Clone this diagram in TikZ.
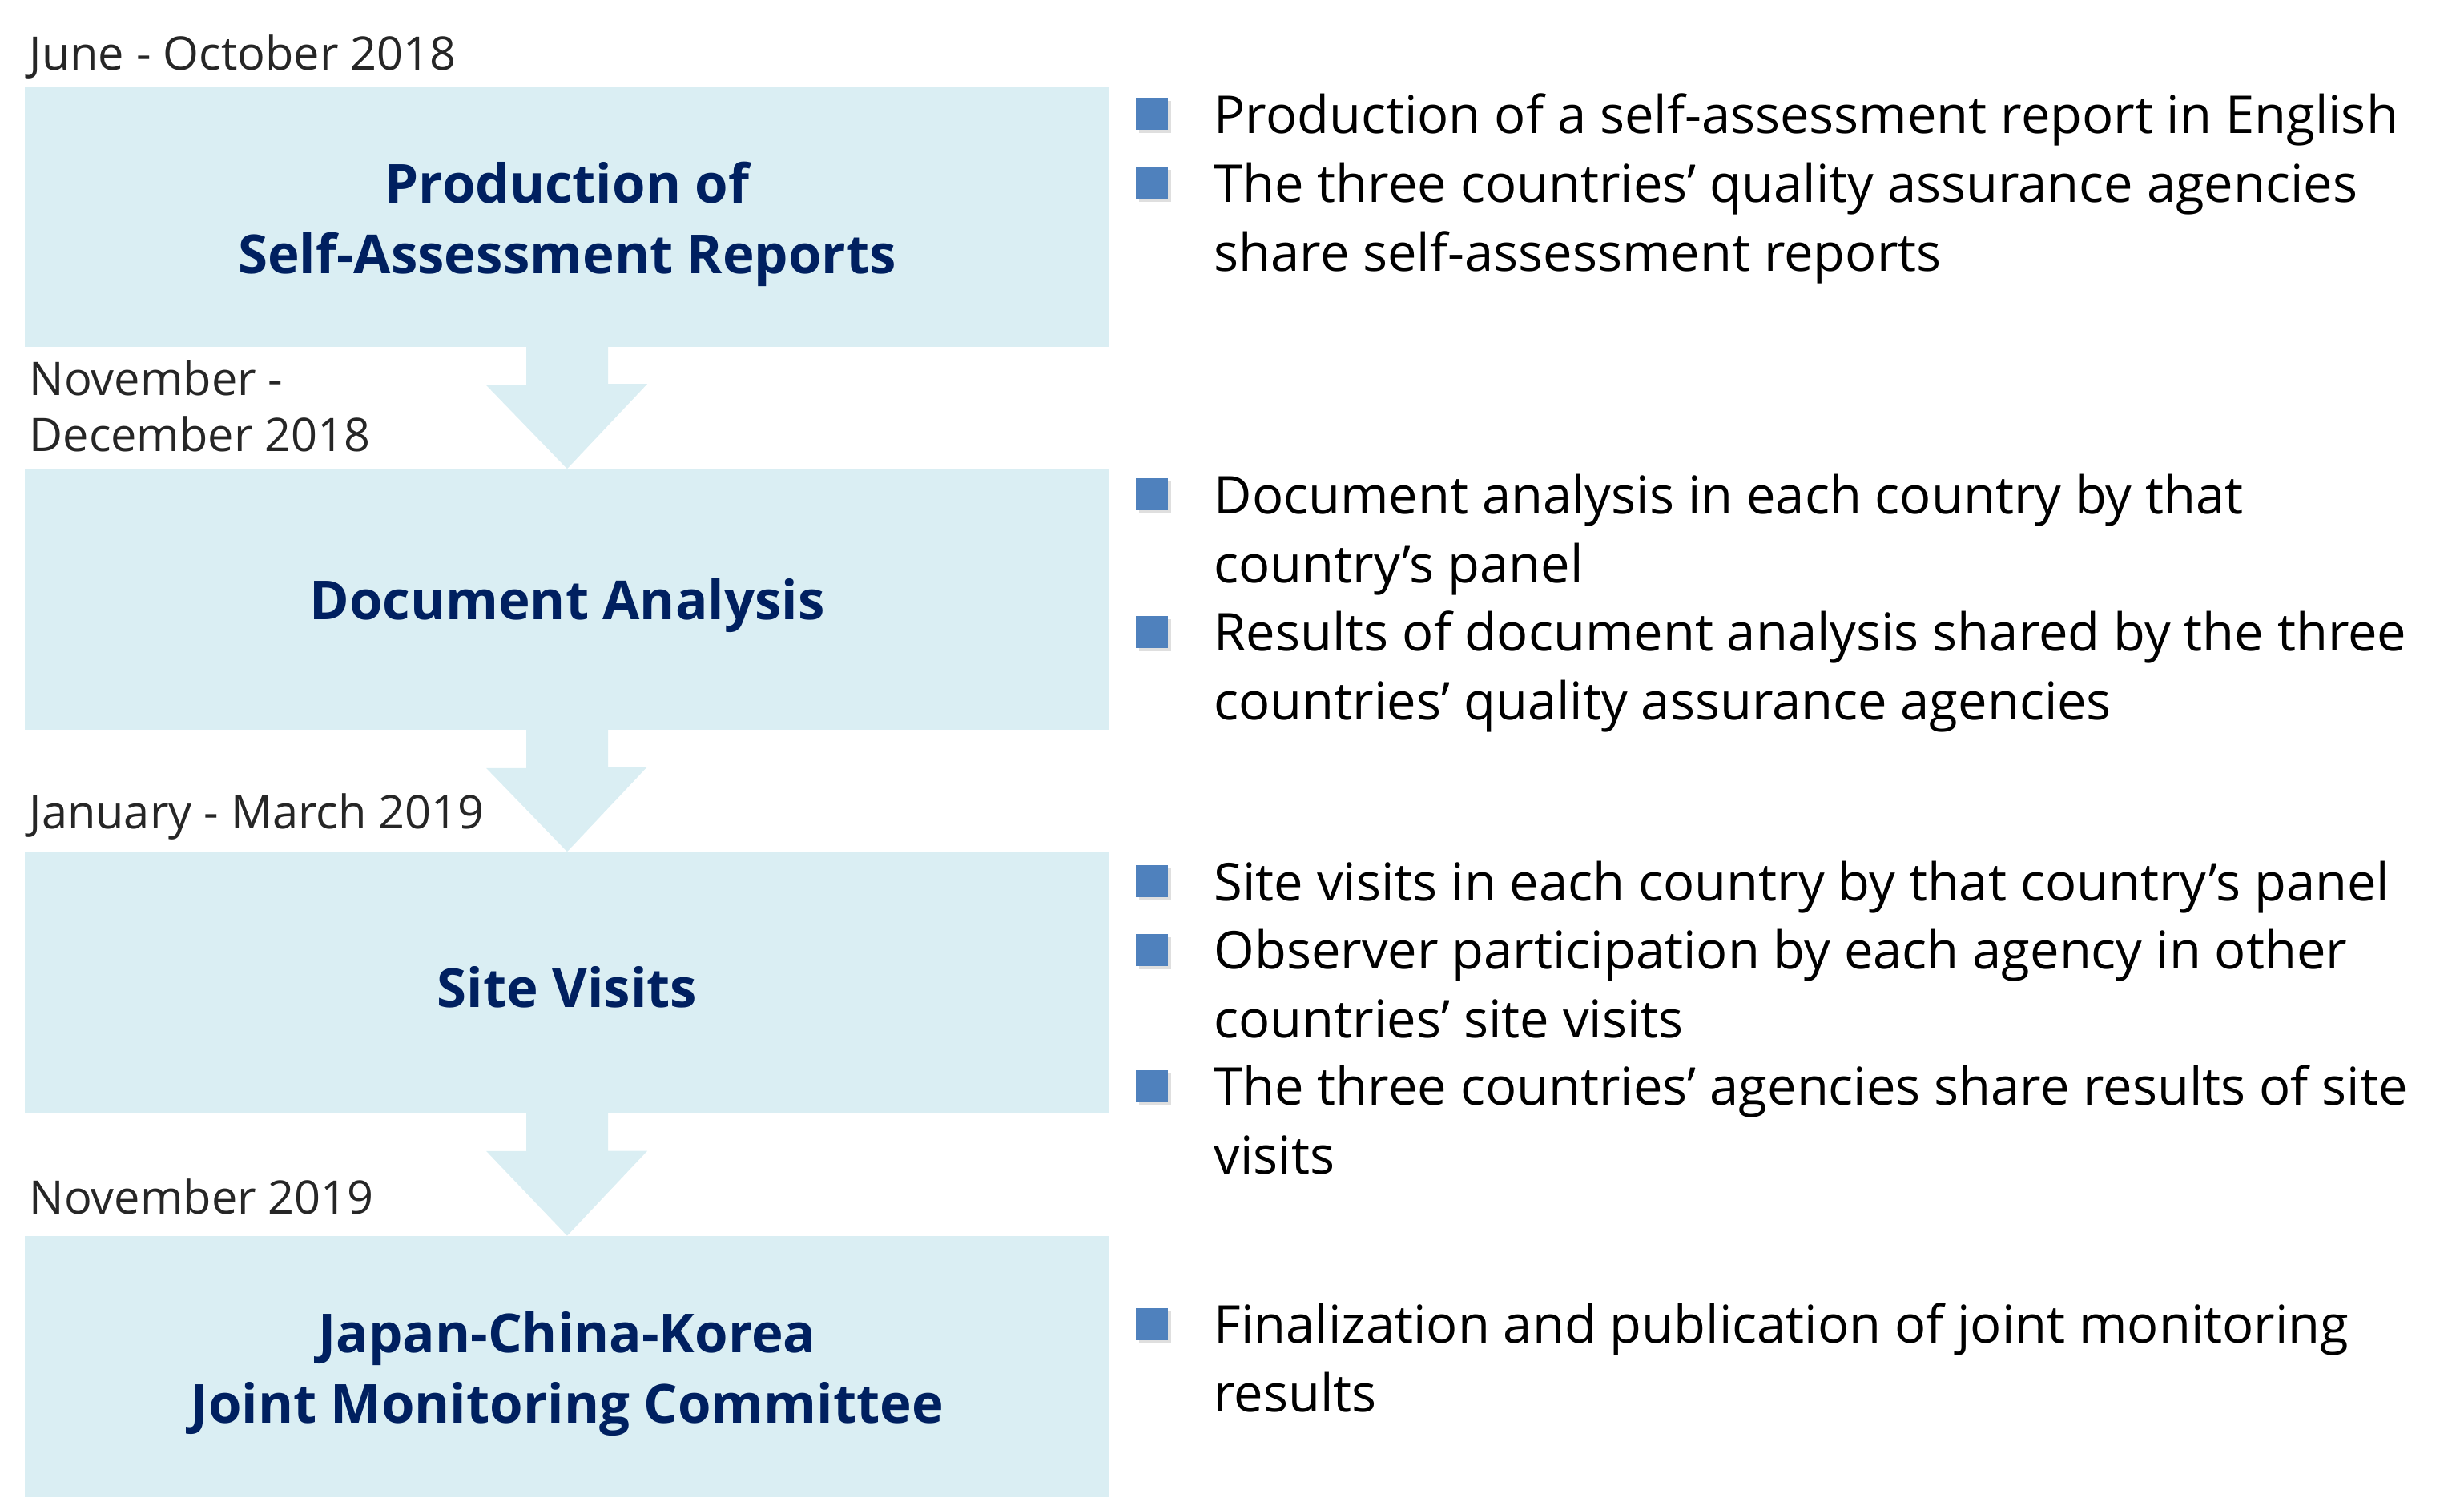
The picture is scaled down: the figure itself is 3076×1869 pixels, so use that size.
\documentclass[tikz,border=0pt]{standalone}
\usepackage{fontspec}
\setmainfont{Open Sans}
\usepackage{tikz}
\usetikzlibrary{positioning,calc,shadows}
\usepackage{xcolor}
\definecolor{stagefill}{HTML}{DAEEF3}
\definecolor{stagetext}{HTML}{002060}
\definecolor{datetext}{HTML}{262626}
\definecolor{bulletblue}{HTML}{4F81BD}

\begin{document}
\begin{tikzpicture}[x=0.01cm, y=-0.01cm,
    stage/.style={fill=stagefill, minimum width=13.54cm, minimum height=3.25cm, inner sep=0pt},
    title/.style={inner sep=0pt, align=center, text=stagetext, font=\fontsize{19.1}{25}\selectfont\bfseries},
    period/.style={anchor=north west, inner sep=0pt, align=left, text=datetext,
                   font=\fontsize{16.4}{19.9}\selectfont},
    item/.style={anchor=north west, inner sep=0pt, align=left, font=\fontsize{18.5}{24.33}\selectfont},
    sq/.style={fill=bulletblue, minimum size=0.4cm, inner sep=0pt,
               drop shadow={shadow xshift=1pt, shadow yshift=-1pt, opacity=0.25}}]
            \useasboundingbox (0,0) rectangle (3076,1869);

            % --- Stages ---
            \node[stage] (prod) at (708,270.5) {};
            \node[stage] (doc) at (708,748.5) {};
            \node[stage] (site) at (708,1226.5) {};
            \node[stage] (jmc) at (708,1706) {};
            \node[title] (prodtitle) at ([yshift=-0.09cm]prod.center) {Production of\\Self-Assessment Reports};
            \node[title] (doctitle) at ([yshift=-0.08cm]doc.center) {Document Analysis};
            \node[title] (sitetitle) at ([yshift=-0.06cm]site.center) {Site Visits};
            \node[title] (jmctitle) at ([yshift=-0.09cm]jmc.center) {Japan-China-Korea\\Joint Monitoring Committee};

            % Arrows between stages
            \fill[stagefill] ($(prod.south)+(-51,-1)$) -- ++(0,48) -- ++(-50,0) -- (doc.north)
                -- ++(100,-106) -- ++(-49,0) -- ($(prod.south)+(51,-1)$) -- cycle;
            \fill[stagefill] ($(doc.south)+(-51,-1)$) -- ++(0,48) -- ++(-50,0) -- (site.north)
                -- ++(100,-106) -- ++(-49,0) -- ($(doc.south)+(51,-1)$) -- cycle;
            \fill[stagefill] ($(site.south)+(-51,-1)$) -- ++(0,48) -- ++(-50,0) -- (jmc.north)
                -- ++(100,-106) -- ++(-49,0) -- ($(site.south)+(51,-1)$) -- cycle;

            % --- Periods ---
            \node[period] (p1) at (36,38) {\strut June - October 2018};
            \node[period] (p2) at (36,444) {\strut November -\\December 2018};
            \node[period] (p3) at (36,985) {\strut January - March 2019};
            \node[period] (p4) at (36,1466) {\strut November 2019};

            % --- Bullets: self-assessment ---
            \node[sq] (b11) at (1438,142) {};
            \node[item] (t11) at (1515,106) {\strut Production of a self-assessment report in English};
            \node[sq] (b12) at (1438,228) {};
            \node[item] (t12) at (1515,192) {\strut The three countries’ quality assurance agencies\\share self-assessment reports};

            % --- Bullets: document analysis ---
            \node[sq] (b21) at (1438,617) {};
            \node[item] (t21) at (1515,581) {\strut Document analysis in each country by that\\country’s panel};
            \node[sq] (b22) at (1438,789) {};
            \node[item] (t22) at (1515,752) {\strut Results of document analysis shared by the three\\countries’ quality assurance agencies};

            % --- Bullets: site visits ---
            \node[sq] (b31) at (1438,1100) {};
            \node[item] (t31) at (1515,1064) {\strut Site visits in each country by that country’s panel};
            \node[sq] (b32) at (1438,1186) {};
            \node[item] (t32) at (1515,1149) {\strut Observer participation by each agency in other\\countries’ site visits};
            \node[sq] (b33) at (1438,1356) {};
            \node[item] (t33) at (1515,1319) {\strut The three countries’ agencies share results of site\\visits};

            % --- Bullets: committee ---
            \node[sq] (b41) at (1438,1653) {};
            \node[item] (t41) at (1515,1616) {\strut Finalization and publication of joint monitoring\\results};
\end{tikzpicture}
\end{document}
